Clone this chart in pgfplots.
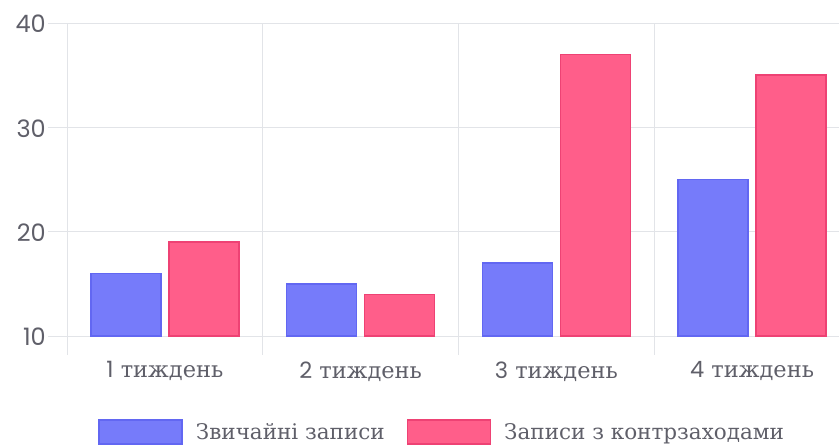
\documentclass[border=0pt]{standalone}
\usepackage{pgfplots}
\pgfplotsset{compat=1.18}
\usepackage{fontspec}
\setmainfont{DejaVu Serif}
\newfontfamily\pop{Poppins}
\definecolor{bluef}{RGB}{118,123,250}
\definecolor{blued}{RGB}{98,103,242}
\definecolor{redf}{RGB}{255,94,138}
\definecolor{redd}{RGB}{238,66,116}
\definecolor{gridc}{RGB}{226,228,232}
\definecolor{textc}{RGB}{95,95,105}
\begin{document}
\begin{tikzpicture}
\useasboundingbox (0,0) rectangle (839pt,445pt);
\begin{axis}[
  at={(67pt,109pt)}, anchor=south west, scale only axis,
  width=772pt, height=313pt,
  xmin=-0.5, xmax=3.444, ymin=10, ymax=40,
  ytick={10,20,30,40},
  /pgf/number format/assume math mode=true,
  xtick={-0.5,0.5,1.5,2.5,3.5}, xticklabels={},
  extra x ticks={0,1,2,3},
  extra x tick labels={{\pop 1} тиждень,{\pop 2} тиждень,{\pop 3} тиждень,{\pop 4} тиждень},
  extra x tick style={grid=none, major tick length=0pt, tick style={draw=none},
     xticklabel style={yshift=-22pt}},
  grid=major, grid style={gridc, line width=0.9pt},
  axis line style={draw=none},
  tick align=outside, major tick length=19pt,
  tick style={draw=gridc, line width=0.9pt},
  xtick pos=bottom, ytick pos=left,
  yticklabel style={font=\pop\fontsize{24}{28}\selectfont, text=textc, inner sep=2pt, yshift=-1pt},
  xticklabel style={font=\fontsize{22.5}{26}\selectfont, text=textc},
  legend style={draw=none, fill=none, at={(axis description cs:0.486,-0.307)}, anchor=center,
     font=\fontsize{21.5}{25}\selectfont, text=textc,
     /tikz/every odd column/.append style={column sep=11pt},
     /tikz/every even column/.append style={column sep=20pt}},
  legend columns=2,
  legend image code/.code={\draw[#1] (0pt,-12pt) rectangle (83pt,12pt);},
]
\addplot[ybar, bar width=70pt, bar shift=-39pt, fill=bluef, draw=blued, line width=1.5pt]
  coordinates {(0,16) (1,15) (2,17) (3,25)};
\addlegendentry{Звичайні записи}
\addplot[ybar, bar width=70pt, bar shift=39pt, fill=redf, draw=redd, line width=1.5pt]
  coordinates {(0,19) (1,14) (2,37) (3,35)};
\addlegendentry{Записи з контрзаходами}
\end{axis}
\end{tikzpicture}
\end{document}
